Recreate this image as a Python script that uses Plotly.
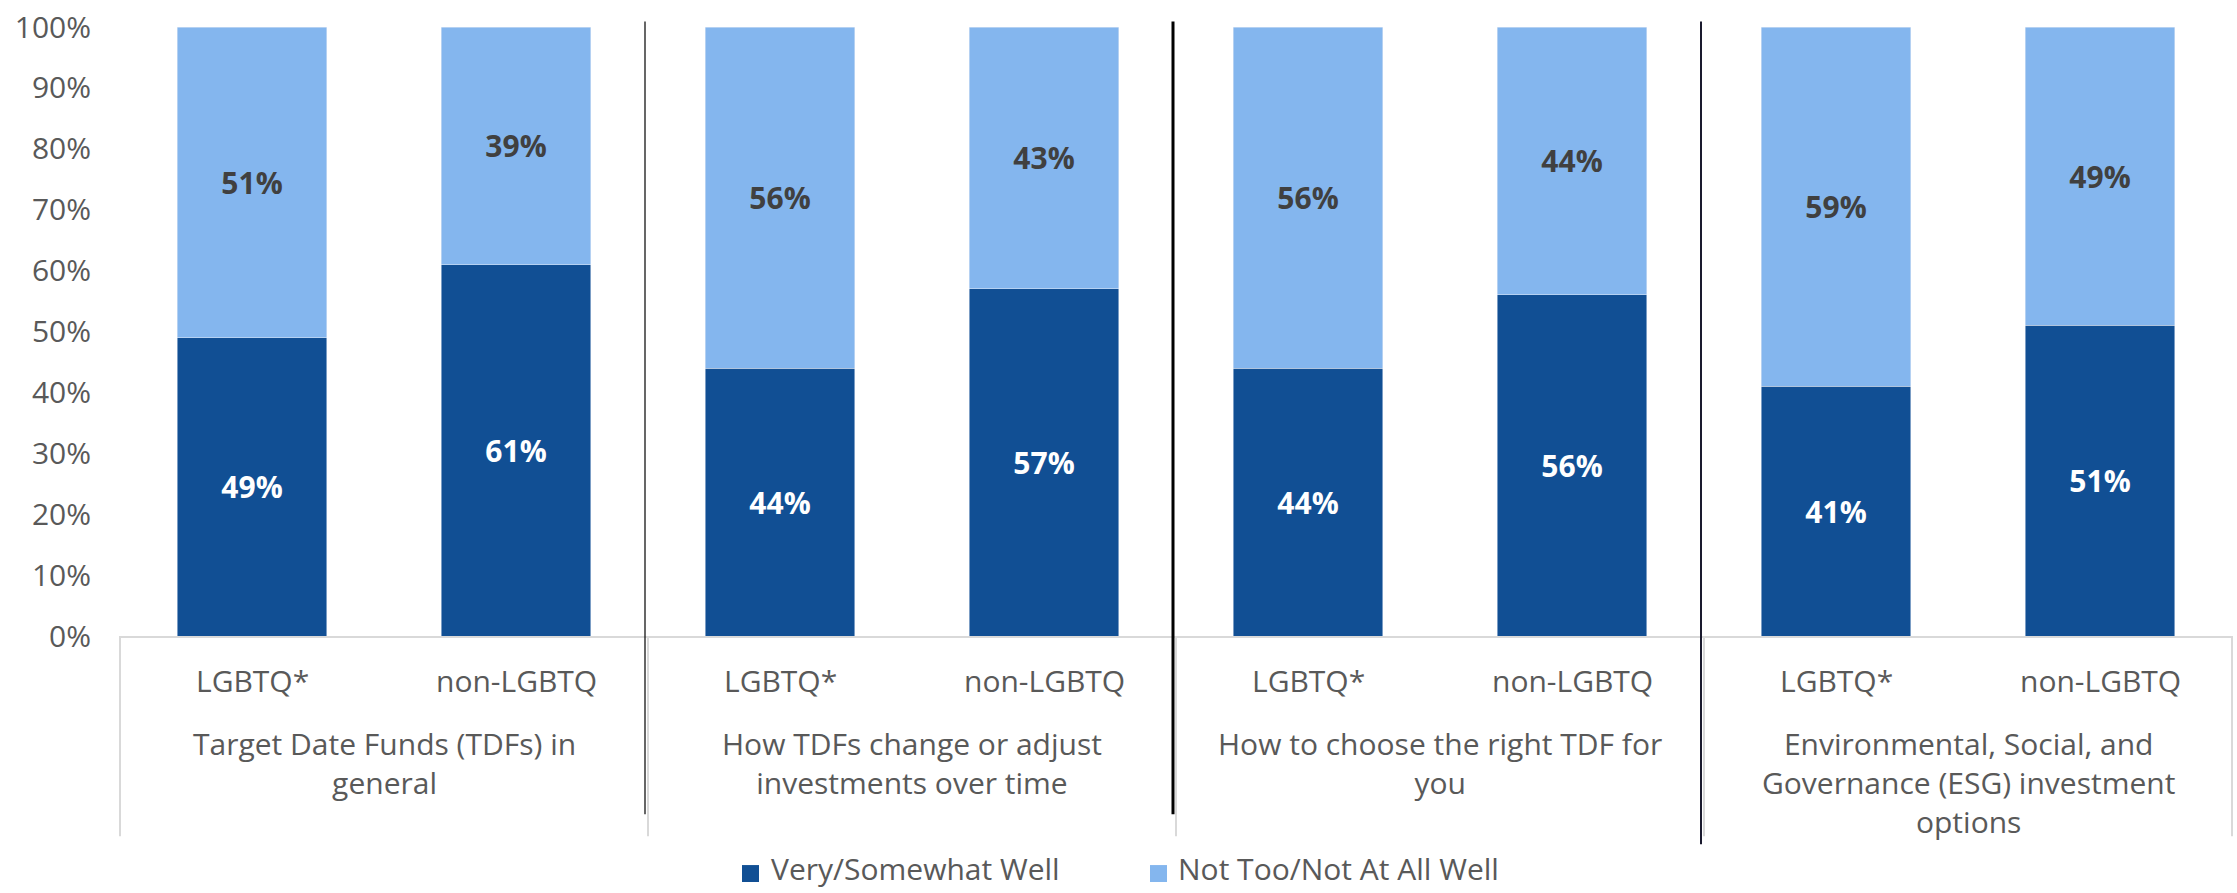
import plotly.graph_objects as go

groups = [
    "Target Date Funds (TDFs) in<br>general",
    "How TDFs change or adjust<br>investments over time",
    "How to choose the right TDF for<br>you",
    "Environmental, Social, and<br>Governance (ESG) investment<br>options",
]
subgroups = ["LGBTQ*", "non-LGBTQ"]
very_well = [0.49, 0.61, 0.44, 0.57, 0.44, 0.56, 0.41, 0.51]
not_well = [0.51, 0.39, 0.56, 0.43, 0.56, 0.44, 0.59, 0.49]
series_names = ["Very/Somewhat Well", "Not Too/Not At All Well"]
y_ticks = [0, 0.1, 0.2, 0.3, 0.4, 0.5, 0.6, 0.7, 0.8, 0.9, 1.0]

DARK = "#114F94"
LIGHT = "#84B6EE"
GREY_TXT = "#595959"
FONT = "Open Sans"
colors = [DARK, LIGHT]

x_outer = [g for g in groups for _ in subgroups]
x_inner = [s for _ in groups for s in subgroups]
x_cat = [x_outer, x_inner]

fig = go.Figure()
fig.add_trace(go.Bar(
    x=x_cat, y=very_well, name=series_names[0], marker_color=DARK,
    text=[f"{v:.0%}" for v in very_well], textposition="inside",
    insidetextanchor="middle", textangle=0,
    textfont=dict(family=FONT, size=30, color="white", weight="bold"),
    showlegend=False,
))
fig.add_trace(go.Bar(
    x=x_cat, y=not_well, name=series_names[1], marker_color=LIGHT,
    text=[f"{v:.0%}" for v in not_well], textposition="inside",
    insidetextanchor="middle", textangle=0,
    textfont=dict(family=FONT, size=30, color="#404040", weight="bold"),
    showlegend=False,
))

W, H = 2237, 893
L, R = 120, 2232
T, B = 24.5, 636
ph = B - T
n_cat = len(x_inner)
n_grp = len(groups)

def py(pix):
    return (B - pix) / ph

def px(pix):
    return (pix - L) / (R - L)

shapes = []
# grey vertical group borders
for g in range(n_grp + 1):
    shapes.append(dict(type="line", xref="paper", yref="paper",
                       x0=g / n_grp, x1=g / n_grp, y0=0, y1=py(837),
                       line=dict(color="#D9D9D9", width=2)))
# black divider lines
black_w = [1.2, 3, 2]
black_bot = [815, 815, 845]
black_col = ["#000000", "#000000", "#1a1a2e"]
for g in range(1, n_grp):
    xpos = g / n_grp - px(L + 3)
    shapes.append(dict(type="line", xref="paper", yref="paper",
                       x0=xpos, x1=xpos, y0=py(19), y1=py(black_bot[g - 1]),
                       line=dict(color=black_col[g - 1], width=black_w[g - 1])))

annotations = []
for k, s in enumerate(x_inner):
    annotations.append(dict(xref="paper", yref="paper", x=(k + 0.5) / n_cat,
                            y=py(681), text=s, showarrow=False,
                            xanchor="center", yanchor="middle",
                            font=dict(family=FONT, size=30, color=GREY_TXT)))
for g, gname in enumerate(groups):
    annotations.append(dict(xref="paper", yref="paper", x=(g + 0.5) / n_grp,
                            y=py(721), text=gname, showarrow=False,
                            xanchor="center", yanchor="top", align="center",
                            font=dict(family=FONT, size=30, color=GREY_TXT)))

# legend (square swatches + labels)
leg_marker_x = [742, 1150]
leg_text_x = [769, 1176]
leg_y = 875
for nm, col, mx, tx in zip(series_names, colors, leg_marker_x, leg_text_x):
    shapes.append(dict(type="rect", xref="paper", yref="paper",
                       x0=px(mx), x1=px(mx + 17), y0=py(leg_y + 8), y1=py(leg_y - 9),
                       fillcolor=col, line=dict(width=0)))
    annotations.append(dict(xref="paper", yref="paper", x=px(tx), y=py(892),
                            text=nm, showarrow=False, xanchor="left", yanchor="bottom",
                            font=dict(family=FONT, size=30, color=GREY_TXT)))

fig.update_layout(
    width=W, height=H,
    margin=dict(l=L, r=W - R, t=T, b=H - B, pad=0),
    barmode="stack", bargap=0.432,
    plot_bgcolor="white", paper_bgcolor="white",
    font=dict(family=FONT, size=30, color=GREY_TXT),
    shapes=shapes, annotations=annotations,
    showlegend=False,
    xaxis=dict(showticklabels=False, ticks="", showgrid=False,
               showline=True, linecolor="#D9D9D9", linewidth=2,
               range=[-0.5, n_cat - 0.5], zeroline=False,
               showdividers=False),
    yaxis=dict(range=[0, 1], tickvals=y_ticks, tickformat=".0%",
               showgrid=False, zeroline=False, showline=False, ticks="",
               ticklabelstandoff=28,
               tickfont=dict(family=FONT, size=30, color=GREY_TXT)),
)

fig.write_html("out.html", config={"displayModeBar": False},
               post_script="document.body.style.margin='0';document.body.style.overflow='hidden';")
